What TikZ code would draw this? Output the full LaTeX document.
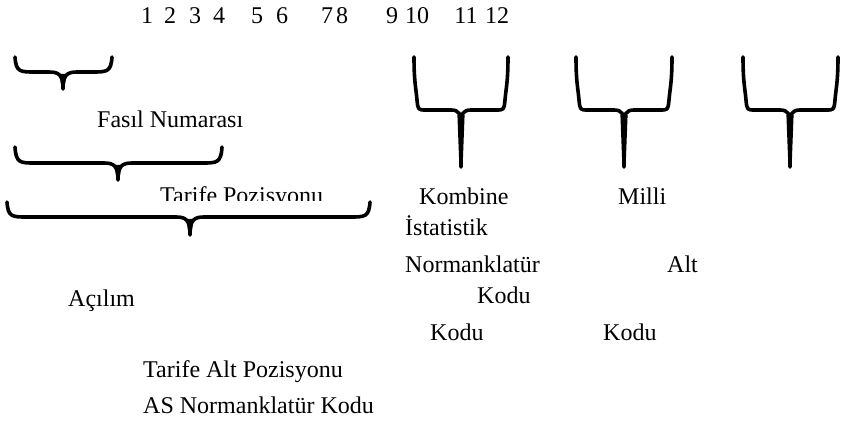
\documentclass[tikz,border=0pt]{standalone}
\usepackage{fontspec}
\setmainfont{Liberation Serif}

% Curly brace lying on its side: ends curl up, tip points down.
% #1 left x, #2 tip x, #3 right x, #4 end y, #5 bar y, #6 tip y
\newcommand\hbrace[6]{%
  \draw[bracestroke]
    (#1,#4) .. controls ({#1+1},#5) and ({#1+5},#5) .. ({#1+20},#5)
    -- ({#2-14},#5) .. controls ({#2-4},#5) and (#2,{#5+3}) .. (#2,#6)
    (#2,#6) .. controls (#2,{#5+3}) and ({#2+4},#5) .. ({#2+14},#5)
    -- ({#3-20},#5) .. controls ({#3-5},#5) and ({#3-1},#5) .. (#3,#4);
  \fill ({#2-3.4},{#5+2}) -- ({#2+3.4},{#5+2}) -- ({#2+1.6},{#6-2}) -- ({#2-1.6},{#6-2}) -- cycle;
}

% Upright bracket with a stem: two arms, a bar and a stem downwards.
% #1 left x, #2 stem x, #3 right x, #4 top y, #5 bar y, #6 bottom y
\newcommand\ubrace[6]{%
  \draw[bracestroke]
    (#1,#4) .. controls (#1,{#4+25}) and ({#1+2},{#5-22}) .. ({#1+3},{#5-10})
    .. controls ({#1+4},#5) .. ({#1+12},#5)
    -- ({#2-10},#5) .. controls ({#2-2},#5) and (#2,{#5+4}) .. (#2,{#5+14})
    -- (#2,#6)
    (#3,#4) .. controls (#3,{#4+25}) and ({#3-2},{#5-22}) .. ({#3-3},{#5-10})
    .. controls ({#3-4},#5) .. ({#3-12},#5)
    -- ({#2+10},#5) .. controls ({#2+2},#5) and (#2,{#5+4}) .. (#2,{#5+14});
  \fill ({#2-3.6},{#5+5}) -- ({#2+3.6},{#5+5}) -- ({#2+1.7},{#6-2}) -- ({#2-1.7},{#6-2}) -- cycle;
}

\begin{document}
\begin{tikzpicture}[x=1pt,y=-1pt,
  bracestroke/.style={line width=3.6pt, line cap=round, line join=round},
  lbl/.style={anchor=base west, inner sep=0pt, font=\fontsize{24}{28}\selectfont},
  digit/.style={anchor=base, inner sep=0pt, font=\fontsize{24}{28}\selectfont}]
\useasboundingbox (0,0) rectangle (844,422);

% digit positions of the code
\node[digit] (d1)  at (147,24) {1};
\node[digit] (d2)  at (170,24) {2};
\node[digit] (d3)  at (195,24) {3};
\node[digit] (d4)  at (219,24) {4};
\node[digit] (d5)  at (257,24) {5};
\node[digit] (d6)  at (282,24) {6};
\node[digit] (d7)  at (327,24) {7};
\node[digit] (d8)  at (342,24) {8};
\node[digit] (d9)  at (392,24) {9};
\node[digit] (d10) at (417,24) {10};
\node[digit] (d11) at (466,24) {11};
\node[digit] (d12) at (497,24) {12};

% braces grouping the first digits
\hbrace{15}{63}{112}{57}{72}{89}
\hbrace{15}{118}{222}{147}{163}{180}
\hbrace{7}{190}{370}{202}{217}{235}

% brackets over the last digits
\ubrace{414}{461}{508}{57}{110}{167}
\ubrace{576}{624}{672}{57}{110}{167}
\ubrace{743}{790}{838}{57}{110}{167}

% labels
\node[lbl] (fasil) at (97,128) {Fasıl Numarası};
\begin{scope}
  \clip (150,170) rectangle (400,201);
  \node[lbl] (tpoz) at (160,204) {Tarife Pozisyonu};
\end{scope}
\node[lbl] (acilim) at (68,306) {Açılım};
\node[lbl] (talt) at (143,377) {Tarife Alt Pozisyonu};
\node[lbl] (asnk) at (143,413) {AS Normanklatür Kodu};

\node[lbl] (kombine) at (419,205) {Kombine};
\node[lbl] (istat) at (405,236) {İstatistik};
\node[lbl] (norm) at (405,273) {Normanklatür};
\node[lbl] (kodu1) at (477,304) {Kodu};
\node[lbl] (kodu2) at (430,341) {Kodu};

\node[lbl] (milli) at (618,205) {Milli};
\node[lbl] (alt) at (667,273) {Alt};
\node[lbl] (kodu3) at (603,341) {Kodu};
\end{tikzpicture}
\end{document}
